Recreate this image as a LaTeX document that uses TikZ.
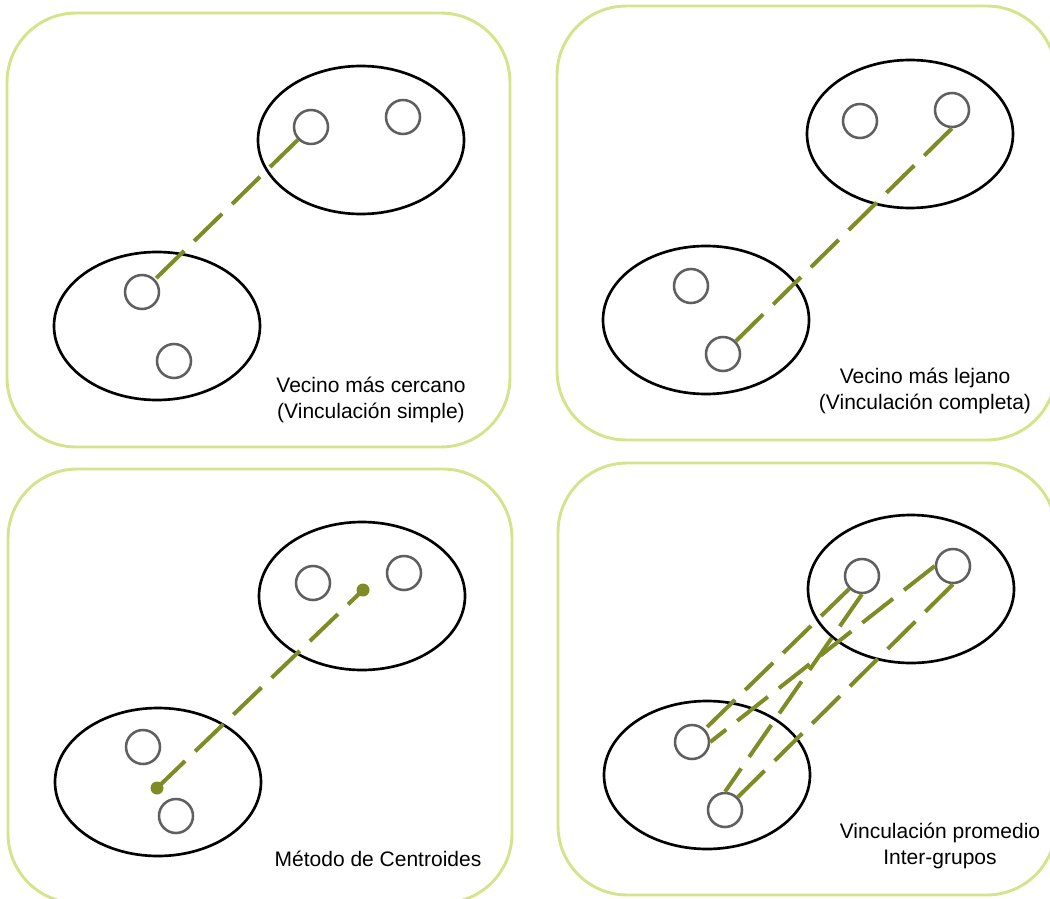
\documentclass[tikz,border=0pt]{standalone}
\usepackage{fontspec}
\setmainfont{Liberation Sans}
\usetikzlibrary{shapes.geometric}
\definecolor{panelc}{RGB}{214,227,140}
\definecolor{olivec}{RGB}{127,140,38}
\definecolor{dotgray}{RGB}{95,95,95}
\tikzset{
  panel/.style={draw=panelc, line width=2.2pt, rounded corners=52pt},
  cluster/.style={draw=black, line width=2pt, ellipse, minimum width=154.5pt, minimum height=111pt, inner sep=0pt},
  pt/.style={draw=dotgray, line width=1.9pt, circle, minimum size=25.5pt, inner sep=0pt},
  centroid/.style={fill=olivec, circle, minimum size=9.75pt, inner sep=0pt},
  link/.style={draw=olivec, line width=3pt, dash pattern=on 29.25pt off 10.5pt},
  caption/.style={font=\fontsize{15.75pt}{19.5pt}\selectfont, align=center, inner sep=0pt}
}
\begin{document}
\begin{tikzpicture}[x=0.75pt, y=-0.75pt]
\useasboundingbox (0,0) rectangle (1050,899);
\clip (0,0) rectangle (1050,899);
% panels
\draw[panel] (7,13) rectangle (510,447);
\draw[panel] (557,6) rectangle (1056,440);
\draw[panel] (8,469) rectangle (512,903);
\draw[panel] (558,463) rectangle (1056,895);

% ---- panel 1
\node[cluster] (e1u) at (361,140) {};
\node[cluster] (e1l) at (157,326) {};
\node[pt] (p1a) at (311,127) {};
\node[pt] (p1b) at (403,117) {};
\node[pt] (p1c) at (142,292) {};
\node[pt] (p1d) at (174,361) {};
\draw[link] (p1a) -- (p1c);
\node[caption] (t1) at (371,400) {Vecino más cercano\\(Vinculación simple)};

% ---- panel 2
\node[cluster] (e2u) at (910,134) {};
\node[cluster] (e2l) at (706,320) {};
\node[pt] (p2a) at (860,121) {};
\node[pt] (p2b) at (952,110) {};
\node[pt] (p2c) at (691,286) {};
\node[pt] (p2d) at (723,354) {};
\draw[link] (p2b.south) -- (p2d.north east);
\node[caption] (t2) at (925,391) {Vecino más lejano\\(Vinculación completa)};

% ---- panel 3
\node[cluster] (e3u) at (362,596) {};
\node[cluster] (e3l) at (158,782) {};
\node[pt] (p3a) at (313,583) {};
\node[pt] (p3b) at (404,573) {};
\node[pt] (p3c) at (143,747) {};
\node[pt] (p3d) at (176,816) {};
\node[centroid] (c3u) at (363,590) {};
\node[centroid] (c3l) at (157,788) {};
\draw[link] (c3l.center) -- (c3u.center);
\node[caption] (t3) at (378,859) {Método de Centroides};

% ---- panel 4
\node[cluster] (e4u) at (911,589) {};
\node[cluster] (e4l) at (707,775) {};
\node[pt] (p4a) at (862,576) {};
\node[pt] (p4b) at (953,566) {};
\node[pt] (p4c) at (692,742) {};
\node[pt] (p4d) at (725,810) {};
\draw[link] (p4a.south west) -- (p4c.north east);
\draw[link] (p4b.west) -- (p4c.east);
\draw[link] (p4a.south) -- (p4d.north);
\draw[link] (p4b.south) -- (p4d.north east);
\node[caption] (t4) at (940,846) {Vinculación promedio\\Inter-grupos};
\end{tikzpicture}
\end{document}
